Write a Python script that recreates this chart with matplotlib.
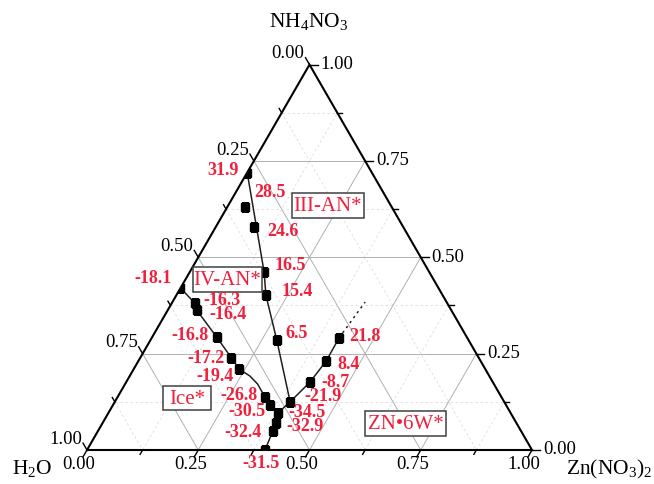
import numpy as np
import matplotlib
matplotlib.use("Agg")
import matplotlib.pyplot as plt
from matplotlib.patches import Polygon, Rectangle

plt.rcParams['font.family'] = ['Liberation Serif', 'DejaVu Serif']
plt.rcParams['mathtext.fontset'] = 'custom'
plt.rcParams['mathtext.rm'] = 'Liberation Serif'

RED = '#f0203c'

# mass fractions: (Zn(NO3)2, NH4NO3), temperature in degC
# NH4NO3 branch
an_zn = [0.000, 0.040, 0.086, 0.167, 0.201, 0.284]
an_an = [0.720, 0.631, 0.579, 0.462, 0.402, 0.285]
an_t = ['31.9', '28.5', '24.6', '16.5', '15.4', '6.5']

# ice branch
ice_zn = [0.000, 0.052, 0.065, 0.145, 0.205, 0.237, 0.331, 0.353]
ice_an = [0.420, 0.381, 0.363, 0.293, 0.239, 0.210, 0.1375, 0.117]
ice_t = ['-18.1', '-16.3', '-16.4', '-16.8', '-17.2', '-19.4', '-26.8', '-30.5']

# Zn(NO3)2*6H2O branch
zn6_zn = [0.394, 0.413, 0.422, 0.421]
zn6_an = [0.125, 0.176, 0.231, 0.291]
zn6_t = ['-21.9', '-8.7', '8.4', '21.8']

# eutectic and line down to the H2O - Zn(NO3)2 side
eut_zn = [0.381, 0.390, 0.393, 0.400]
eut_an = [0.096, 0.070, 0.049, 0.000]
eut_t = ['-34.5', '-32.9', '-32.4', '-31.5']

# boundary curves as drawn
an_line_zn = [0.000, 0.167, 0.201, 0.284, 0.394]
an_line_an = [0.720, 0.462, 0.402, 0.285, 0.125]
ice_line_zn = [0.000, 0.052, 0.065, 0.145, 0.205, 0.237, 0.270, 0.298, 0.331, 0.353, 0.381]
ice_line_an = [0.420, 0.381, 0.363, 0.293, 0.239, 0.210, 0.192, 0.171, 0.1375, 0.117, 0.096]
pe_zn = [0.394, 0.381]
pe_an = [0.125, 0.096]
dot_zn = [0.421, 0.433]
dot_an = [0.291, 0.384]

ticks = [0.0, 0.125, 0.25, 0.375, 0.5, 0.625, 0.75, 0.875, 1.0]

# label offsets in pixels (right, down)
an_off = [(-24, -2), (25, -14), (29, 5), (26, -6), (31, -4), (20, -7)]
ice_off = [(-27, -10), (27, -3), (31, 4), (-27, -2), (-25, 1), (-24, 7), (-26, -2), (-23, 7)]
zn6_off = [(33, -5), (26, 0), (22, 4), (26, -1)]
eut_off = [(29, -1), (29, 3), (-30, 1), (-4, 14)]

S = 445.0  # pixels per side
H3 = np.sqrt(3) / 2


def tern(z, n):
    z = np.asarray(z, float)
    n = np.asarray(n, float)
    return z + n / 2, n * H3


def px(x, y):
    # pixel position -> data coords
    return (x - 87) / S, (450 - y) / S


fig = plt.figure(figsize=(6.54, 4.84), dpi=100)
ax = fig.add_axes([0, 0, 1, 1])
ax.set_xlim(-87 / S, (654 - 87) / S)
ax.set_ylim((450 - 484) / S, 450 / S)
ax.axis('off')

# grid
for v in ticks[1:-1]:
    major = (v * 4) % 1 == 0
    kw = dict(color='#b0b0b0', lw=0.7) if major else dict(color='#dcdcdc', lw=0.6, ls=(0, (3, 3)))
    for a, b in [((0, v), (1 - v, v)), ((v, 0), (v, 1 - v)), ((0, 1 - v), (1 - v, 0))]:
        x, y = tern([a[0], b[0]], [a[1], b[1]])
        ax.plot(x, y, zorder=1, **kw)

# triangle frame
tri_x, tri_y = tern([0, 1, 0, 0], [0, 0, 1, 0])
ax.plot(tri_x, tri_y, color='black', lw=1.5, zorder=3, solid_joinstyle='miter')
clip = Polygon(np.column_stack([tri_x[:3], tri_y[:3]]), closed=True, transform=ax.transData,
               fill=False, visible=False)
ax.add_patch(clip)

# ticks and tick labels
for v in ticks:
    major = (v * 4) % 1 == 0
    L = (8 if major else 5) / S
    # bottom: Zn(NO3)2
    bx, by = tern(v, 0)
    dx, dy = -0.5 * L, -H3 * L
    ax.plot([bx, bx + dx], [by, by + dy], color='black', lw=1.0, clip_on=False)
    if major:
        ax.text(bx + dx - 4 / S, by + dy - 8 / S, f'{v:.2f}', ha='center', va='center', fontsize=13.5)
    # right: NH4NO3
    rx, ry = tern(1 - v, v)
    ax.plot([rx, rx + L], [ry, ry], color='black', lw=1.0, clip_on=False)
    if major:
        ax.text(rx + L + 3 / S, ry, f'{v:.2f}', ha='left', va='center', fontsize=13.5)
    # left: H2O
    lx, ly = tern(0, 1 - v)
    dx, dy = -0.5 * L, H3 * L
    ax.plot([lx, lx + dx], [ly, ly + dy], color='black', lw=1.0, clip_on=False)
    if major:
        ax.text(lx + dx - 1 / S, ly + dy + 4 / S, f'{v:.2f}', ha='right', va='center', fontsize=13.5)

# boundary curves
for zs, ns in [(an_line_zn, an_line_an), (ice_line_zn, ice_line_an), (zn6_zn, zn6_an),
               (pe_zn, pe_an), (eut_zn, eut_an)]:
    x, y = tern(zs, ns)
    ax.plot(x, y, color='#202020', lw=1.1, zorder=4)
x, y = tern(dot_zn, dot_an)
ax.plot(x, y, color='#202020', lw=1.1, ls=(0, (1.5, 2.5)), zorder=4)

# points + temperature labels
for zs, ns, ts, offs in [(an_zn, an_an, an_t, an_off), (ice_zn, ice_an, ice_t, ice_off),
                         (zn6_zn, zn6_an, zn6_t, zn6_off), (eut_zn, eut_an, eut_t, eut_off)]:
    x, y = tern(zs, ns)
    pts, = ax.plot(x, y, 's', color='black', ms=6.3, zorder=5)
    pts.set_clip_path(clip)
    for xi, yi, t, (ox, oy) in zip(x, y, ts, offs):
        ax.annotate(t, (xi, yi), xytext=(ox * 0.72, -oy * 0.72), textcoords='offset points',
                    ha='center', va='center', color=RED, fontsize=13, fontweight='bold', zorder=6)

# phase field labels
fields = [('III-AN*', (292, 193, 364, 218)), ('IV-AN*', (193, 267, 262, 292)),
          ('Ice*', (163, 386, 211, 410)), ('ZN\u20226W*', (365, 411, 446, 436))]
for name, (x0, y0, x1, y1) in fields:
    ax0, ay0 = px(x0, y1)
    ax1, ay1 = px(x1, y0)
    ax.add_patch(Rectangle((ax0, ay0), ax1 - ax0, ay1 - ay0, fc='white', ec='#404040', lw=1.1, zorder=5))
    ax.text((ax0 + ax1) / 2, (ay0 + ay1) / 2 - 1 / S, name, ha='center', va='center',
            color=RED, fontsize=15, zorder=6)

# component names
ax.text(*px(309, 22), r'NH$_\mathregular{4}$NO$_\mathregular{3}$', ha='center', va='center', fontsize=15.5)
ax.text(*px(32, 469), r'H$_\mathregular{2}$O', ha='center', va='center', fontsize=15.5)
ax.text(*px(609, 469), r'Zn(NO$_\mathregular{3}$)$_\mathregular{2}$', ha='center', va='center', fontsize=15.5)

fig.savefig('out.png', dpi=100)
